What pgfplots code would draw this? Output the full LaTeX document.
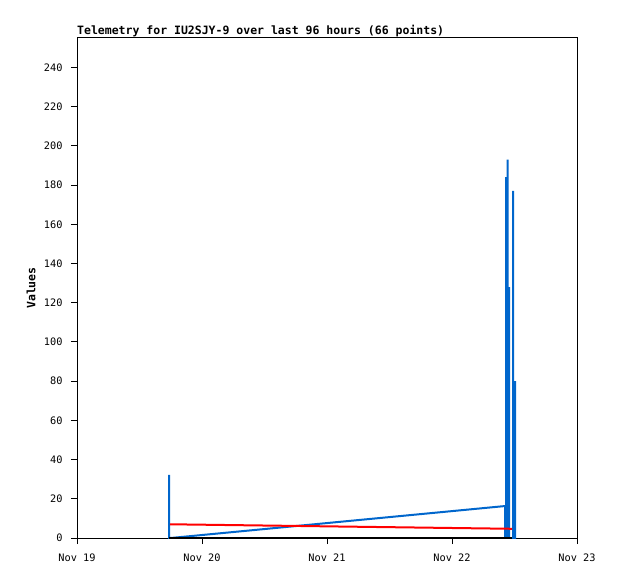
\documentclass[border=0pt]{standalone}
\usepackage{pgfplots}
\pgfplotsset{compat=1.18}
\usepackage{fontspec}
\setmainfont{DejaVu Sans Mono}
\setmonofont{DejaVu Sans Mono}
\definecolor{tblue}{HTML}{0066CC}
\definecolor{tred}{HTML}{FF0000}
\begin{document}
\begin{tikzpicture}[x=1pt,y=1pt]
\path[use as bounding box] (0,0) rectangle (618,579);
\begin{axis}[
  at={(77pt,41pt)}, anchor=south west,
  scale only axis, width=500pt, height=500pt,
  xmin=0, xmax=4, ymin=0, ymax=255,
  xtick={0,1,2,3,4},
  xticklabels={Nov 19,Nov 20,Nov 21,Nov 22,Nov 23},
  ytick={0,20,...,240},
  tick align=outside, xtick pos=bottom, ytick pos=left,
  major tick length=6pt,
  tick style={black, line width=1pt},
  axis line style={black, line width=1pt},
  ticklabel style={font=\fontsize{10.3}{11}\selectfont},
  /pgf/number format/assume math mode=true,
  xticklabel style={yshift=-6pt},
  yticklabel style={xshift=-5pt},
  title={Telemetry for IU2SJY-9 over last 96 hours (66 points)},
  title style={at={(0,1)}, anchor=base west, yshift=-3pt, inner sep=0pt,
    font=\bfseries\fontsize{11.5}{12}\selectfont},
  ylabel={Values},
  ylabel style={at={(axis description cs:-0.092,0.5)}, anchor=center,
    font=\bfseries\fontsize{11.5}{12}\selectfont},
  clip=true,
]
\addplot[color=tblue, line width=2pt, line join=miter] coordinates {
 (0.736,32.2) (0.736,0) (0.75,0) (3.424,16.3) (3.424,0)
 (3.432,0) (3.432,184) (3.432,0)
 (3.444,0) (3.444,193) (3.444,0)
 (3.456,0) (3.456,128) (3.456,0)
 (3.488,0) (3.488,177) (3.488,0)
 (3.504,0) (3.504,80) (3.504,0)
};
\addplot[color=tred, line width=2pt] coordinates {
 (0.744,7.0) (3.48,4.7)
};
\addplot[color=black, line width=2pt] coordinates {
 (0.736,0) (3.48,0)
};
\end{axis}
\end{tikzpicture}
\end{document}
